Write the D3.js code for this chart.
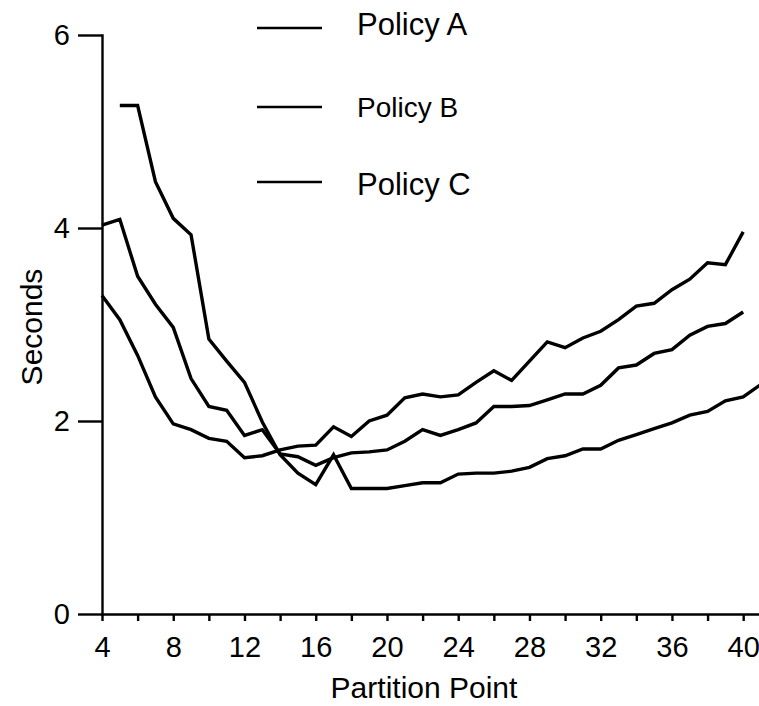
<!DOCTYPE html>
<meta charset="utf-8">
<style>
    body { margin: 0; background: #fff; }
    svg { display: block; font-family: "Liberation Sans", Arial, sans-serif; }
    .series { fill: none; stroke: #000; stroke-width: 3.4px; stroke-linejoin: miter; }
    .axis path, .axis line { stroke: #000; stroke-width: 2.4px; }
    .axis text { font-size: 29px; fill: #000; font-family: "Liberation Sans", Arial, sans-serif; }
</style>
<body>
<script src="https://d3js.org/d3.v7.min.js"></script>
<script>
    var width = 759, height = 706;

    // partition points (x) and seconds for each policy
    var partition = [4, 5, 6, 7, 8, 9, 10, 11, 12, 13, 14, 15, 16, 17, 18, 19, 20, 21, 22,
                     23, 24, 25, 26, 27, 28, 29, 30, 31, 32, 33, 34, 35, 36, 37, 38, 39, 40, 41];
    var policyA = [null, 5.27, 5.27, 4.48, 4.10, 3.93, 2.85, 2.62, 2.40, 1.99, 1.65, 1.46, 1.34, 1.65,
                   1.30, 1.30, 1.30, 1.33, 1.36, 1.36, 1.45, 1.46, 1.46, 1.48, 1.52, 1.61, 1.64,
                   1.71, 1.71, 1.80, 1.86, 1.92, 1.98, 2.06, 2.10, 2.21, 2.25, 2.38];
    var policyB = [4.03, 4.09, 3.50, 3.21, 2.97, 2.44, 2.15, 2.11, 1.85, 1.91, 1.66, 1.63, 1.54, 1.62,
                   1.67, 1.68, 1.70, 1.79, 1.91, 1.85, 1.91, 1.98, 2.15, 2.15, 2.16, 2.22, 2.28,
                   2.28, 2.37, 2.55, 2.58, 2.70, 2.74, 2.89, 2.98, 3.01, 3.13, null];
    var policyC = [3.30, 3.05, 2.68, 2.25, 1.97, 1.91, 1.82, 1.79, 1.62, 1.64, 1.70, 1.74, 1.75, 1.94,
                   1.84, 2.00, 2.06, 2.24, 2.28, 2.25, 2.27, 2.40, 2.52, 2.42, 2.62, 2.82, 2.76,
                   2.86, 2.93, 3.05, 3.19, 3.22, 3.36, 3.47, 3.64, 3.62, 3.96, null];
    var seriesNames = ["Policy A", "Policy B", "Policy C"];

    var xTicks = [4, 6, 8, 10, 12, 14, 16, 18, 20, 22, 24, 26, 28, 30, 32, 34, 36, 38, 40];
    var xLabels = [4, 8, 12, 16, 20, 24, 28, 32, 36, 40];
    var yTicks = [0, 2, 4, 6];

    var svg = d3.select("body").append("svg")
        .attr("width", width)
        .attr("height", height);

    var x = d3.scaleLinear().domain([4, 41]).range([102, 761]);
    var y = d3.scaleLinear().domain([0, 6]).range([614, 35]);

    // x axis: small ticks every 2, labels every 4
    svg.append("g")
        .attr("class", "axis")
        .attr("transform", "translate(0," + y(0) + ")")
        .call(d3.axisBottom(x)
            .tickValues(xTicks)
            .tickSize(7)
            .tickSizeOuter(0)
            .tickPadding(15)
            .tickFormat(function(d) { return xLabels.indexOf(d) >= 0 ? d : ""; }));

    // y axis with long outward ticks
    svg.append("g")
        .attr("class", "axis")
        .attr("transform", "translate(" + x(4) + ",0)")
        .call(d3.axisLeft(y)
            .tickValues(yTicks)
            .tickSize(24)
            .tickSizeOuter(0)
            .tickPadding(8)
            .tickFormat(d3.format("d")));

    svg.selectAll(".axis path").attr("stroke-linecap", "square");

    // data lines
    var line = d3.line()
        .defined(function(d) { return d[1] != null; })
        .x(function(d) { return x(d[0]); })
        .y(function(d) { return y(d[1]); });

    [policyA, policyB, policyC].forEach(function(vals) {
        svg.append("path")
            .attr("class", "series")
            .attr("d", line(partition.map(function(p, i) { return [p, vals[i]]; })));
    });

    // legend
    var legendY = [28, 107, 182];
    var legendBase = [35, 117, 195];
    var legendSize = [31, 28, 31];
    var legend = svg.append("g");
    seriesNames.forEach(function(name, i) {
        legend.append("line")
            .attr("x1", 257).attr("x2", 322)
            .attr("y1", legendY[i]).attr("y2", legendY[i])
            .attr("stroke", "#000")
            .attr("stroke-width", 2.6);
        legend.append("text")
            .attr("x", 357)
            .attr("y", legendBase[i])
            .style("font-size", legendSize[i] + "px")
            .text(name);
    });

    // axis titles
    svg.append("text")
        .attr("x", 424)
        .attr("y", 698)
        .attr("text-anchor", "middle")
        .style("font-size", "30px")
        .text("Partition Point");

    svg.append("text")
        .attr("transform", "translate(42,327) rotate(-90)")
        .attr("text-anchor", "middle")
        .style("font-size", "30px")
        .text("Seconds");
</script>
</body>
